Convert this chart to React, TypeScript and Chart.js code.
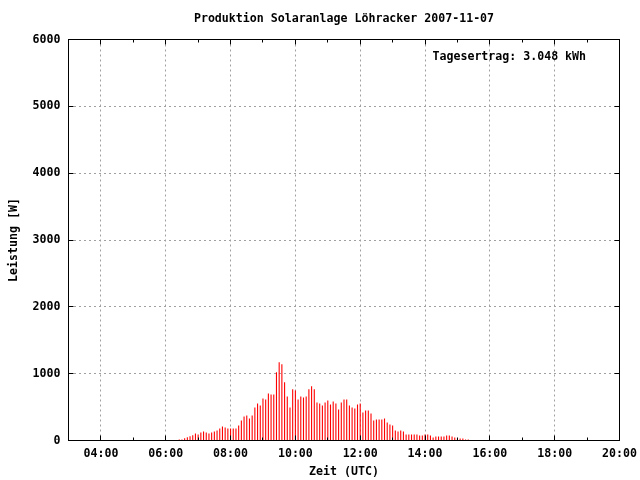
import React, { useEffect, useRef } from "react";
import { Chart, registerables } from "chart.js";

Chart.register(...registerables);

// ---- texts ----
const chartTitle = "Produktion Solaranlage Löhracker 2007-11-07";
const xAxisTitle = "Zeit (UTC)";
const yAxisTitle = "Leistung [W]";
const yieldLabel = "Tagesertrag: 3.048 kWh";

// ---- data: 5-minute power samples (W) ----
const firstSampleTime = "06:25";
const sampleStepMinutes = 5;
const powerValues = [
  15, 15, 35, 50, 65, 80, 105, 90, 120, 135, 120, 105, 120, 135, 150, 180, 210,
  195, 180, 180, 180, 180, 225, 300, 360, 375, 330, 375, 495, 555, 525, 630, 615,
  705, 690, 690, 1020, 1170, 1140, 870, 660, 495, 765, 750, 615, 660, 645, 660,
  765, 810, 765, 570, 555, 525, 570, 600, 540, 585, 555, 465, 570, 615, 615, 525,
  495, 480, 540, 555, 420, 450, 450, 405, 300, 315, 315, 315, 330, 270, 240, 225,
  150, 135, 150, 135, 90, 90, 90, 90, 90, 75, 75, 90, 90, 75, 45, 60, 60, 60, 60,
  75, 75, 60, 45, 30, 30, 30, 15, 15,
];

// ---- axes ----
const xMinHour = 3;
const xMaxHour = 20;
const xTickHours = [4, 6, 8, 10, 12, 14, 16, 18, 20];
const xMinorTickHours = [5, 7, 9, 11, 13, 15, 17, 19];
const yMin = 0;
const yMax = 6000;
const yStep = 1000;

const FONT_FAMILY = "'DejaVu Sans Mono', 'Liberation Mono', monospace";
const FONT_SIZE = 11.6;

function sampleHours(): number[] {
  const [h, m] = firstSampleTime.split(":").map(Number);
  const start = h + m / 60;
  return powerValues.map((_, i) => start + (i * sampleStepMinutes) / 60);
}

function fmtHour(v: number): string {
  const h = Math.round(v);
  return (h < 10 ? "0" : "") + h + ":00";
}

const framePlugin = {
  id: "gnuFrame",
  afterDraw(chart: any) {
    const { ctx, chartArea: a, scales } = chart;
    const xs = scales.x;
    const ys = scales.y;
    ctx.save();
    ctx.strokeStyle = "#000";
    ctx.lineWidth = 1;
    ctx.setLineDash([]);
    ctx.beginPath();
    const major = 5;
    const minor = 3;
    const crisp = (p: number) => Math.floor(p) + 0.5;
    xTickHours.forEach((hv) => {
      const px = crisp(xs.getPixelForValue(hv));
      ctx.moveTo(px, a.bottom);
      ctx.lineTo(px, a.bottom - major);
      ctx.moveTo(px, a.top);
      ctx.lineTo(px, a.top + major);
    });
    xMinorTickHours.forEach((hv) => {
      const px = crisp(xs.getPixelForValue(hv));
      ctx.moveTo(px, a.bottom);
      ctx.lineTo(px, a.bottom - minor);
      ctx.moveTo(px, a.top);
      ctx.lineTo(px, a.top + minor);
    });
    for (let v = yMin; v <= yMax; v += yStep) {
      const py = crisp(ys.getPixelForValue(v));
      ctx.moveTo(a.left, py);
      ctx.lineTo(a.left + major, py);
      ctx.moveTo(a.right, py);
      ctx.lineTo(a.right - major, py);
    }
    ctx.stroke();
    ctx.strokeRect(a.left, a.top, a.right - a.left, a.bottom - a.top);

    ctx.fillStyle = "#000";
    ctx.font = `bold ${FONT_SIZE}px ${FONT_FAMILY}`;
    ctx.textAlign = "left";
    ctx.textBaseline = "middle";
    ctx.fillText(yieldLabel, a.left + 364, a.top + 17);
    ctx.restore();
  },
};

export default function App() {
  const canvasRef = useRef<HTMLCanvasElement | null>(null);

  useEffect(() => {
    if (!canvasRef.current) return;
    const xs = sampleHours();
    const font = { family: FONT_FAMILY, size: FONT_SIZE, weight: "bold" as const, lineHeight: 1.2 };
    const chart = new Chart(canvasRef.current, {
      type: "bar",
      data: {
        datasets: [
          {
            data: powerValues.map((v, i) => ({ x: xs[i], y: v })),
            backgroundColor: "#ff0000",
            borderWidth: 0,
            barThickness: 1.1,
            inflateAmount: 0,
          } as any,
        ],
      },
      options: {
        animation: false,
        responsive: true,
        maintainAspectRatio: false,
        devicePixelRatio: 1,
        layout: { padding: { left: 0, right: 20.5, top: 0, bottom: 0 } },
        plugins: {
          legend: { display: false },
          tooltip: { enabled: false },
          title: {
            display: true,
            text: chartTitle,
            color: "#000",
            font,
            fullSize: false,
            padding: { top: 12, bottom: 13.58 },
          },
        },
        scales: {
          x: {
            type: "linear",
            min: xMinHour,
            max: xMaxHour,
            offset: false,
            afterBuildTicks: (scale: any) => {
              scale.ticks = xTickHours.map((v) => ({ value: v }));
            },
            afterFit: (scale: any) => {
              scale.height = 39.5;
              scale.paddingLeft = 0;
              scale.paddingRight = 0;
              scale.paddingTop = 0;
              scale.paddingBottom = 0;
            },
            ticks: {
              color: "#000",
              font,
              padding: 6.5,
              maxRotation: 0,
              autoSkip: false,
              callback: (v: any) => fmtHour(Number(v)),
            },
            grid: {
              color: "#a0a0a0",
              lineWidth: 1,
              drawTicks: false,
              offset: false,
            },
            border: { display: false, dash: [2, 3] },
            title: {
              display: true,
              text: xAxisTitle,
              color: "#000",
              font,
              padding: { top: 0, bottom: 1 },
            },
          } as any,
          y: {
            type: "linear",
            min: yMin,
            max: yMax,
            afterFit: (scale: any) => {
              scale.width = 68.5;
              scale.paddingLeft = 0;
              scale.paddingRight = 0;
              scale.paddingTop = 0;
              scale.paddingBottom = 0;
            },
            ticks: {
              stepSize: yStep,
              color: "#000",
              font,
              padding: 8,
              callback: (v: any) => String(v),
            },
            grid: {
              color: "#a0a0a0",
              lineWidth: 1,
              drawTicks: false,
            },
            border: { display: false, dash: [2, 3] },
            title: {
              display: true,
              text: yAxisTitle,
              color: "#000",
              font,
              padding: { top: 7, bottom: 0 },
            },
          } as any,
        },
      },
      plugins: [framePlugin],
    });
    return () => chart.destroy();
  }, []);

  return (
    <div style={{ position: "fixed", left: 0, top: 0, width: 640, height: 480, background: "#fff" }}>
      <canvas ref={canvasRef} />
    </div>
  );
}
